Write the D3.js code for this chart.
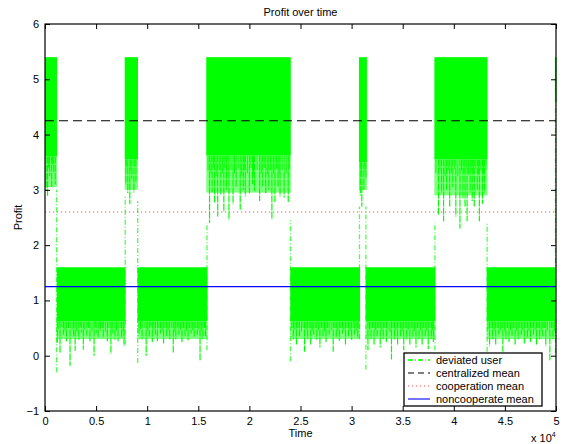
<!DOCTYPE html>
<html>
<head>
<meta charset="utf-8">
<script src="https://cdn.jsdelivr.net/npm/d3@7"></script>
<style>
  body { margin: 0; background: #fff; }
  svg { font-family: "Liberation Sans", Arial, sans-serif; }
</style>
</head>
<body>
<svg width="566" height="444"></svg>
<script>
// ticks
const xTicks = [0, 0.5, 1, 1.5, 2, 2.5, 3, 3.5, 4, 4.5, 5];
const yTicks = [-1, 0, 1, 2, 3, 4, 5, 6];

// regimes of the deviated user profit (time in 1e4)
const regimeStart  = [0,     0.115, 0.78, 0.905, 1.578, 2.40, 3.072, 3.137, 3.81, 4.322, 4.99];
const regimeEnd    = [0.118, 0.788, 0.91, 1.59,  2.405, 3.082, 3.15, 3.82,  4.33, 4.995, 5.0];
const regimeTop    = [5.4,   1.6,   5.4,  1.6,   5.4,   1.6,   5.4,  1.6,   5.4,  1.6,   5.4];
const regimeCore   = [3.6,   0.62,  3.55, 0.62,  3.62,  0.62,  3.5,  0.62,  3.55, 0.62,  4.6];
const regimeFringe = [3.05,  0.3,   3.0,  0.3,   2.95,  0.3,   3.0,  0.3,   2.9,  0.3,   4.6];

// downward spikes [time, min profit]
const spikes = [
  [0.01,3.0],[0.025,2.88],[0.045,3.25],[0.065,3.05],[0.085,3.3],[0.1,3.1],
  [0.12,0.23],[0.147,0.05],[0.18,0.38],[0.21,0.26],[0.245,-0.18],[0.28,0.36],[0.295,0.09],[0.33,0.29],[0.355,0.42],[0.375,0.11],[0.41,0.36],[0.44,0.26],[0.48,0.0],[0.5,0.4],[0.52,0.32],[0.545,0.45],[0.57,0.32],[0.61,0.26],[0.645,0.03],[0.665,0.4],[0.685,0.29],[0.715,0.26],[0.75,0.32],[0.773,0.17],
  [0.79,3.1],[0.81,2.94],[0.83,2.74],[0.85,3.2],[0.87,2.95],[0.89,3.15],
  [0.92,0.4],[0.95,0.3],[0.99,0.0],[1.02,0.35],[1.05,0.25],[1.08,0.38],[1.1,0.26],[1.13,0.4],[1.16,0.22],[1.19,0.36],[1.22,0.3],[1.255,0.05],[1.28,0.3],[1.31,0.38],[1.34,0.25],[1.37,0.35],[1.4,0.28],[1.43,0.4],[1.46,0.33],[1.49,0.38],[1.517,-0.08],[1.545,0.3],[1.57,0.35],
  [1.61,2.4],[1.635,2.95],[1.66,2.76],[1.69,2.52],[1.72,2.9],[1.75,2.6],[1.775,3.0],[1.8,2.45],[1.84,2.74],[1.87,3.05],[1.91,2.64],[1.94,3.0],[1.96,2.88],[2.0,2.94],[2.03,3.1],[2.05,2.98],[2.1,2.8],[2.13,3.05],[2.16,2.94],[2.19,3.0],[2.22,2.46],[2.25,2.78],[2.28,3.05],[2.3,2.88],[2.34,2.86],[2.38,2.78],
  [2.43,0.3],[2.46,0.2],[2.49,0.35],[2.54,0.07],[2.57,0.3],[2.6,0.2],[2.63,0.38],[2.66,0.29],[2.69,0.15],[2.72,0.35],[2.75,0.25],[2.78,0.38],[2.82,0.07],[2.85,0.32],[2.88,0.27],[2.91,0.4],[2.94,0.2],[2.97,0.35],[3.0,0.29],[3.03,0.38],[3.06,0.32],
  [3.085,2.9],[3.1,2.7],[3.12,3.0],[3.14,3.2],
  [3.16,0.1],[3.19,0.3],[3.22,0.2],[3.25,0.35],[3.28,0.15],[3.31,0.3],[3.34,0.25],[3.39,-0.07],[3.42,0.3],[3.45,0.2],[3.48,0.35],[3.51,0.1],[3.54,0.3],[3.57,0.2],[3.6,0.33],[3.63,0.15],[3.66,0.3],[3.69,0.2],[3.72,0.35],[3.75,0.12],[3.78,0.3],[3.8,0.25],
  [3.85,2.55],[3.88,2.95],[3.9,2.43],[3.93,3.0],[3.96,2.7],[3.99,3.05],[4.02,2.52],[4.06,2.3],[4.09,2.85],[4.11,2.7],[4.13,2.43],[4.16,2.95],[4.18,2.8],[4.2,2.7],[4.23,3.0],[4.25,2.43],[4.28,2.75],[4.3,2.95],
  [4.35,0.17],[4.38,0.3],[4.41,0.2],[4.44,0.38],[4.48,0.07],[4.51,0.3],[4.54,0.25],[4.57,0.36],[4.6,0.2],[4.63,0.3],[4.66,0.38],[4.69,0.22],[4.72,0.32],[4.75,0.25],[4.78,0.38],[4.81,0.2],[4.84,0.3],[4.87,0.35],[4.9,0.17],[4.94,-0.08],[4.97,0.3]
];

// short ragged spikes inside the fringe [time, min profit]
const shortSpikes = [
  [0.035,3.4],[0.075,3.45],[0.135,0.48],[0.165,0.52],[0.195,0.45],[0.23,0.5],[0.265,0.47],[0.31,0.44],[0.345,0.52],[0.39,0.47],[0.425,0.5],[0.46,0.44],[0.49,0.52],[0.535,0.48],[0.56,0.5],[0.59,0.43],[0.625,0.5],[0.655,0.47],[0.7,0.45],[0.735,0.5],[0.765,0.44],
  [0.8,3.4],[0.84,3.35],[0.88,3.42],[0.935,0.48],[0.97,0.5],[1.005,0.45],[1.035,0.52],[1.065,0.47],[1.115,0.5],[1.145,0.45],[1.175,0.5],[1.205,0.46],[1.24,0.5],[1.27,0.44],[1.295,0.51],[1.325,0.47],[1.355,0.5],[1.385,0.45],[1.415,0.49],[1.445,0.46],[1.475,0.5],[1.505,0.47],[1.53,0.45],[1.56,0.5],
  [1.595,3.35],[1.625,3.3],[1.65,3.4],[1.675,3.25],[1.705,3.35],[1.735,3.3],[1.76,3.4],[1.79,3.28],[1.82,3.36],[1.855,3.3],[1.89,3.38],[1.925,3.26],[1.95,3.35],[1.98,3.3],[2.015,3.4],[2.04,3.3],[2.075,3.36],[2.115,3.3],[2.145,3.4],[2.175,3.28],[2.205,3.35],[2.235,3.3],[2.265,3.38],[2.29,3.3],[2.32,3.36],[2.36,3.3],[2.39,3.38],
  [2.415,0.5],[2.445,0.47],[2.475,0.5],[2.51,0.44],[2.525,0.5],[2.555,0.47],[2.585,0.5],[2.615,0.45],[2.645,0.5],[2.675,0.46],[2.705,0.5],[2.735,0.44],[2.765,0.5],[2.8,0.46],[2.835,0.5],[2.865,0.45],[2.895,0.5],[2.925,0.47],[2.955,0.5],[2.985,0.45],[3.015,0.5],[3.045,0.46],[3.07,0.5],
  [3.095,3.3],[3.13,3.35],[3.175,0.48],[3.205,0.5],[3.235,0.46],[3.265,0.5],[3.295,0.45],[3.325,0.5],[3.355,0.47],[3.375,0.43],[3.405,0.5],[3.435,0.46],[3.465,0.5],[3.495,0.45],[3.525,0.5],[3.555,0.47],[3.585,0.5],[3.615,0.45],[3.645,0.5],[3.675,0.46],[3.705,0.5],[3.735,0.45],[3.765,0.5],[3.79,0.46],
  [3.825,3.3],[3.865,3.35],[3.915,3.25],[3.945,3.35],[3.975,3.3],[4.005,3.38],[4.04,3.25],[4.075,3.35],[4.1,3.3],[4.12,3.38],[4.145,3.28],[4.17,3.35],[4.19,3.3],[4.215,3.38],[4.24,3.28],[4.265,3.35],[4.29,3.3],[4.315,3.36],
  [4.335,0.48],[4.365,0.5],[4.395,0.45],[4.425,0.5],[4.455,0.46],[4.47,0.5],[4.495,0.45],[4.525,0.5],[4.555,0.46],[4.585,0.5],[4.615,0.45],[4.645,0.5],[4.675,0.46],[4.705,0.5],[4.735,0.45],[4.765,0.5],[4.795,0.46],[4.825,0.5],[4.855,0.45],[4.885,0.5],[4.915,0.46],[4.955,0.5],[4.985,0.45]
];

// jumps between regimes [time, low end, high end]
const jumps = [
  [0.113,-0.3,3.0],[0.785,0.2,2.9],[0.907,-0.13,2.8],[1.585,0.1,2.4],[2.402,-0.1,2.45],
  [3.077,0.3,2.7],[3.14,-0.25,2.7],[3.815,0.1,2.4],[4.326,0.07,2.4],[4.995,0.05,5.4]
];

// mean lines
const centralizedMean = 4.25;
const cooperationMean = 2.6;
const noncooperateMean = 1.25;

const legendNames = ['deviated user', 'centralized mean', 'cooperation mean', 'noncooperate mean'];

const margin = {top: 24, right: 10, bottom: 33, left: 45};
const width = 566 - margin.left - margin.right;
const height = 444 - margin.top - margin.bottom;
const green = '#00ff00';

const svg = d3.select('svg');
const chart = svg.append('g')
  .attr('transform', 'translate(' + margin.left + ',' + margin.top + ')');

const xScale = d3.scaleLinear().domain([0, 5]).range([0, width]);
const yScale = d3.scaleLinear().domain([-1, 6]).range([height, 0]);

const regimes = regimeStart.map((s, i) => ({
  start: s, end: regimeEnd[i], top: regimeTop[i], core: regimeCore[i], fringe: regimeFringe[i]
}));

// fringe band
chart.selectAll('rect.fringe')
  .data(regimes)
  .join('rect')
  .attr('class', 'fringe')
  .attr('x', d => xScale(d.start))
  .attr('width', d => Math.max(1.5, xScale(d.end) - xScale(d.start)))
  .attr('y', d => yScale(d.core))
  .attr('height', d => yScale(d.fringe) - yScale(d.core))
  .attr('fill', green)
  .attr('opacity', 0.5);

// core band
chart.selectAll('rect.core')
  .data(regimes)
  .join('rect')
  .attr('class', 'core')
  .attr('x', d => xScale(d.start))
  .attr('width', d => Math.max(1.5, xScale(d.end) - xScale(d.start)))
  .attr('y', d => yScale(d.top))
  .attr('height', d => yScale(d.core) - yScale(d.top))
  .attr('fill', green);

// spikes
function coreAt(t) {
  const r = regimes.find(r => t >= r.start && t <= r.end);
  return r ? r.core : 0;
}
chart.selectAll('line.short')
  .data(shortSpikes)
  .join('line')
  .attr('class', 'short')
  .attr('x1', d => xScale(d[0]))
  .attr('x2', d => xScale(d[0]))
  .attr('y1', d => yScale(coreAt(d[0])))
  .attr('y2', d => yScale(d[1]))
  .attr('stroke', green)
  .attr('stroke-width', 1);

chart.selectAll('line.spike')
  .data(spikes)
  .join('line')
  .attr('class', 'spike')
  .attr('x1', d => xScale(d[0]))
  .attr('x2', d => xScale(d[0]))
  .attr('y1', d => yScale(coreAt(d[0])))
  .attr('y2', d => yScale(d[1]))
  .attr('stroke', green)
  .attr('stroke-width', 1.2)
  .attr('stroke-dasharray', '7,1');

// jumps
chart.selectAll('line.jump')
  .data(jumps)
  .join('line')
  .attr('class', 'jump')
  .attr('x1', d => xScale(d[0]))
  .attr('x2', d => xScale(d[0]))
  .attr('y1', d => yScale(d[1]))
  .attr('y2', d => yScale(d[2]))
  .attr('stroke', green)
  .attr('stroke-width', 1.3)
  .attr('stroke-dasharray', '5,2,1,2')
  .attr('opacity', 0.7);

// means
const meanLines = [
  {v: centralizedMean, color: '#000000', dash: '9,5'},
  {v: cooperationMean, color: '#ff5050', dash: '1.2,2.8'},
  {v: noncooperateMean, color: '#0000ff', dash: 'none'}
];
chart.selectAll('line.mean')
  .data(meanLines)
  .join('line')
  .attr('class', 'mean')
  .attr('x1', 0).attr('x2', width)
  .attr('y1', d => yScale(d.v)).attr('y2', d => yScale(d.v))
  .attr('stroke', d => d.color)
  .attr('stroke-width', 1.1)
  .attr('stroke-dasharray', d => d.dash);

// axes with inward ticks
const xAxis = d3.axisBottom(xScale).tickValues(xTicks).tickSizeInner(-5).tickSizeOuter(0).tickPadding(6)
  .tickFormat(d => d);
const yAxis = d3.axisLeft(yScale).tickValues(yTicks).tickSizeInner(-5).tickSizeOuter(0).tickPadding(6)
  .tickFormat(d => d < 0 ? '\u2212' + Math.abs(d) : d);
const xAxisGroup = chart.append('g').attr('transform', 'translate(0,' + height + ')').call(xAxis);
const yAxisGroup = chart.append('g').call(yAxis);
chart.append('g').call(d3.axisTop(xScale).tickValues(xTicks).tickSizeInner(-5).tickSizeOuter(0).tickFormat(''));
chart.append('g').attr('transform', 'translate(' + width + ',0)')
  .call(d3.axisRight(yScale).tickValues(yTicks).tickSizeInner(-5).tickSizeOuter(0).tickFormat(''));
chart.selectAll('.domain').remove();
chart.selectAll('.tick line').attr('stroke', '#000');
chart.selectAll('.tick text').attr('font-size', 11).attr('fill', '#000')
  .attr('font-family', '"Liberation Sans", Arial, sans-serif');

chart.append('rect')
  .attr('width', width).attr('height', height)
  .attr('fill', 'none').attr('stroke', '#000').attr('stroke-width', 1.2);

// texts
svg.append('text').attr('x', margin.left + width / 2).attr('y', 16)
  .attr('text-anchor', 'middle').attr('font-size', 11).text('Profit over time');
svg.append('text').attr('x', margin.left + width / 2).attr('y', 437)
  .attr('text-anchor', 'middle').attr('font-size', 11).text('Time');
svg.append('text').attr('transform', 'translate(22,' + (margin.top + height / 2) + ') rotate(-90)')
  .attr('text-anchor', 'middle').attr('font-size', 11).text('Profit');
const exp = svg.append('text').attr('x', 531).attr('y', 442).attr('font-size', 11);
exp.append('tspan').text('x 10');
exp.append('tspan').attr('dy', -5).attr('font-size', 7).text('4');

// legend
const legend = svg.append('g').attr('transform', 'translate(404,353)');
legend.append('rect').attr('width', 138).attr('height', 53)
  .attr('fill', '#fff').attr('stroke', '#000').attr('stroke-width', 1.3);
const legendStyle = [
  {color: green, dash: '5,2,1,2'},
  {color: '#000000', dash: '6,4'},
  {color: '#ff5050', dash: '1.2,2.8'},
  {color: '#0000ff', dash: 'none'}
];
const items = legend.selectAll('g.item')
  .data(legendNames)
  .join('g')
  .attr('class', 'item')
  .attr('transform', (d, i) => 'translate(0,' + (7 + i * 13) + ')');
items.append('line')
  .attr('x1', 4).attr('x2', 26).attr('y1', 0).attr('y2', 0)
  .attr('stroke', (d, i) => legendStyle[i].color)
  .attr('stroke-width', (d, i) => i === 0 ? 1.5 : 1.1)
  .attr('stroke-dasharray', (d, i) => legendStyle[i].dash);
items.append('text')
  .attr('x', 32).attr('y', 4).attr('font-size', 11).text(d => d);
</script>
</body>
</html>
